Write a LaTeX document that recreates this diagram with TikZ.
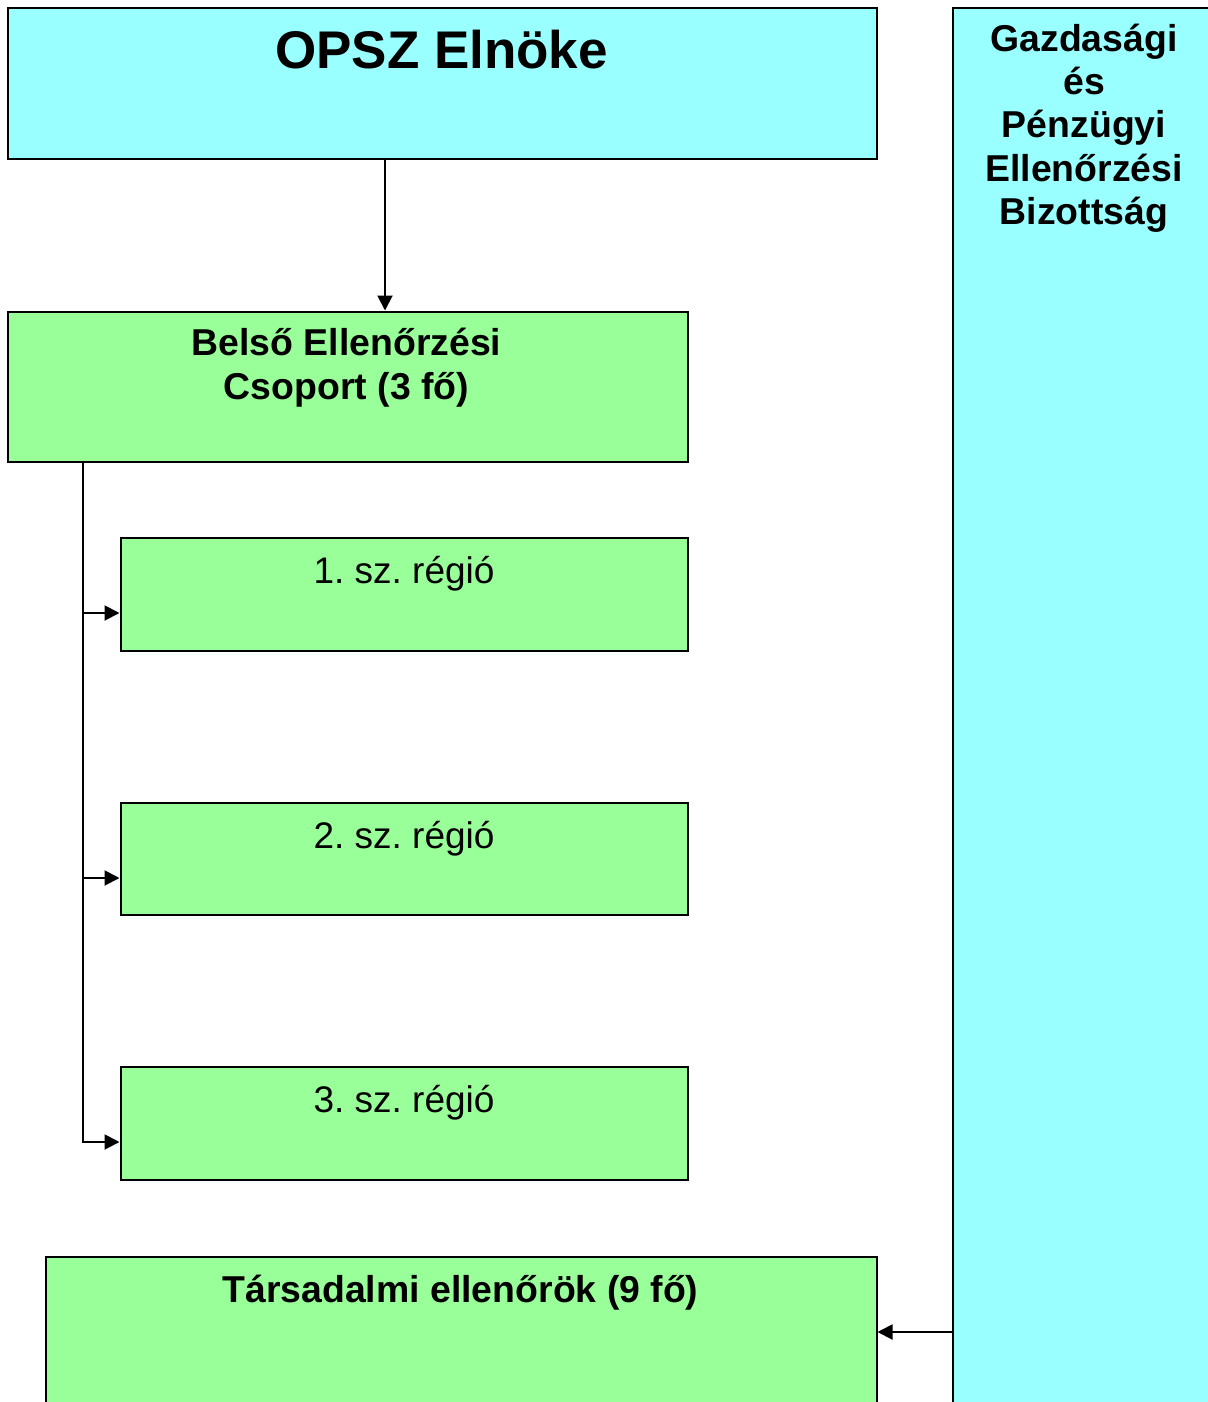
\documentclass[tikz,border=0pt]{standalone}
\usepackage{fontspec}
\setmainfont{Liberation Sans}
\usetikzlibrary{arrows.meta}
\definecolor{cyanfill}{HTML}{99FFFF}
\definecolor{greenfill}{HTML}{99FF99}
\frenchspacing
\tikzset{
  boxbase/.style={draw=black, line width=1pt, rectangle, anchor=north west, inner sep=0pt},
  cyanbox/.style={boxbase, fill=cyanfill},
  greenbox/.style={boxbase, fill=greenfill},
  lbl/.style={inner sep=0pt, anchor=base, align=center, font=\fontsize{18.7}{21.5}\selectfont\bfseries},
  lblreg/.style={inner sep=0pt, anchor=base, font=\fontsize{18.5}{21.5}\selectfont},
  arr/.style={line width=1pt, -{Triangle[length=7.5pt,width=7.5pt]}},
  conn/.style={line width=1pt}
}
\begin{document}
\begin{tikzpicture}[x=0.5pt,y=-0.5pt]
\useasboundingbox (0,0) rectangle (1208,1402);
\clip (0,0) rectangle (1208,1402);
\fill[white] (0,0) rectangle (1208,1402);
% boxes
\node[cyanbox, minimum width=434.5pt, minimum height=75pt] (opsz) at (6.5,7.5) {};
\node[cyanbox, minimum width=134pt, minimum height=701pt] (gpeb) at (951.5,7.5) {};
\node[greenbox, minimum width=340pt, minimum height=75pt] (bec) at (6.5,310.5) {};
\node[greenbox, minimum width=283.5pt, minimum height=56.5pt] (r1) at (119.5,536.5) {};
\node[greenbox, minimum width=283.5pt, minimum height=56pt] (r2) at (119.5,801.5) {};
\node[greenbox, minimum width=283.5pt, minimum height=56.5pt] (r3) at (119.5,1065.5) {};
\node[greenbox, minimum width=415.5pt, minimum height=77pt] (tars) at (44.5,1255.5) {};
% texts
\node[inner sep=0pt, anchor=base, font=\fontsize{26.5}{30}\selectfont\bfseries] (topt) at (441.5,69) {OPSZ Elnöke};
\node[lbl] (g1) at (1084,52) {Gazdasági};
\node[lbl] (g2) at (1084,95) {és};
\node[lbl] (g3) at (1084,138) {Pénzügyi};
\node[lbl] (g4) at (1084,181) {Ellenőrzési};
\node[lbl] (g5) at (1084,224) {Bizottság};
\node[lbl] (b1) at (346.5,355) {Belső Ellenőrzési};
\node[lbl] (b2) at (346.5,399) {Csoport (3 fő)};
\node[lblreg] (r1t) at (404,583) {1. sz. régió};
\node[lblreg] (r2t) at (404,848) {2. sz. régió};
\node[lblreg] (r3t) at (404,1112) {3. sz. régió};
\node[lbl] (tt) at (460.5,1302) {Társadalmi ellenőrök (9 fő)};
% connectors
\coordinate (ax) at (385,0);
\coordinate (tx) at (83,0);
\coordinate (r1in) at (119.5,613);
\coordinate (r2in) at (119.5,878);
\coordinate (r3in) at (119.5,1142);
\coordinate (tin) at (876,1332);
\draw[arr] (opsz.south -| ax) -- (bec.north -| ax);
\draw[arr] (bec.south -| tx) |- (r3in);
\draw[arr] (r1in -| tx) -- (r1in);
\draw[arr] (r2in -| tx) -- (r2in);
\draw[arr] (gpeb.west |- tin) -- (tars.east |- tin);
\end{tikzpicture}
\end{document}
